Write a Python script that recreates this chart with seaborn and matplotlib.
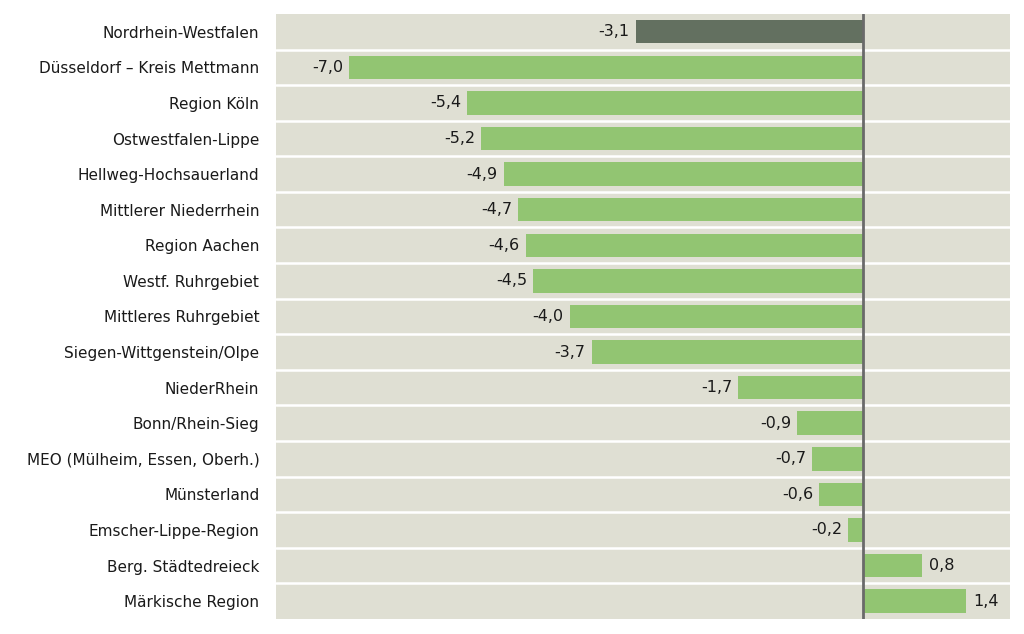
import matplotlib
matplotlib.use("Agg")
import matplotlib.pyplot as plt
import seaborn as sns
import pandas as pd

regions = [
    "Nordrhein-Westfalen",
    "Düsseldorf – Kreis Mettmann",
    "Region Köln",
    "Ostwestfalen-Lippe",
    "Hellweg-Hochsauerland",
    "Mittlerer Niederrhein",
    "Region Aachen",
    "Westf. Ruhrgebiet",
    "Mittleres Ruhrgebiet",
    "Siegen-Wittgenstein/Olpe",
    "NiederRhein",
    "Bonn/Rhein-Sieg",
    "MEO (Mülheim, Essen, Oberh.)",
    "Münsterland",
    "Emscher-Lippe-Region",
    "Berg. Städtedreieck",
    "Märkische Region",
]
values = [-3.1, -7.0, -5.4, -5.2, -4.9, -4.7, -4.6, -4.5, -4.0, -3.7,
          -1.7, -0.9, -0.7, -0.6, -0.2, 0.8, 1.4]
groups = ["NRW"] + ["Region"] * 16

df = pd.DataFrame({"region": regions, "value": values, "group": groups})

sns.set_theme(style="white")
plt.rcParams["font.family"] = ["DejaVu Sans"]

fig = plt.figure(figsize=(10.24, 6.34), dpi=100)
ax = fig.add_axes([0.2695, 0.0237, 0.7168, 0.9543])
ax.set_facecolor("#dfdfd3")

sns.barplot(data=df, x="value", y="region", hue="group",
            palette={"NRW": "#637060", "Region": "#92c572"},
            saturation=1, linewidth=0, edgecolor="none",
            dodge=False, width=0.66, legend=False, ax=ax, orient="h")

n = len(regions)
for i in range(n - 1):
    ax.axhline(i + 0.5, color="white", lw=1.8, zorder=0.5)

ax.axvline(0, color="#6a6a6a", lw=2, zorder=3)

for i, v in enumerate(values):
    txt = f"{v:.1f}".replace(".", ",")
    if v < 0:
        ax.text(v - 0.08, i, txt, ha="right", va="center", fontsize=11.5, color="#1a1a1a")
    else:
        ax.text(v + 0.1, i, txt, ha="left", va="center", fontsize=11.5, color="#1a1a1a")

ax.set_xlim(-8, 2)
ax.set_ylim(n - 0.5, -0.5)
ax.set_xlabel("")
ax.set_ylabel("")
ax.set_xticks([])
ax.tick_params(axis="y", length=0, pad=12, labelsize=11, labelcolor="#1a1a1a")
for s in ax.spines.values():
    s.set_visible(False)

fig.savefig("out.png", dpi=100, facecolor="white")
